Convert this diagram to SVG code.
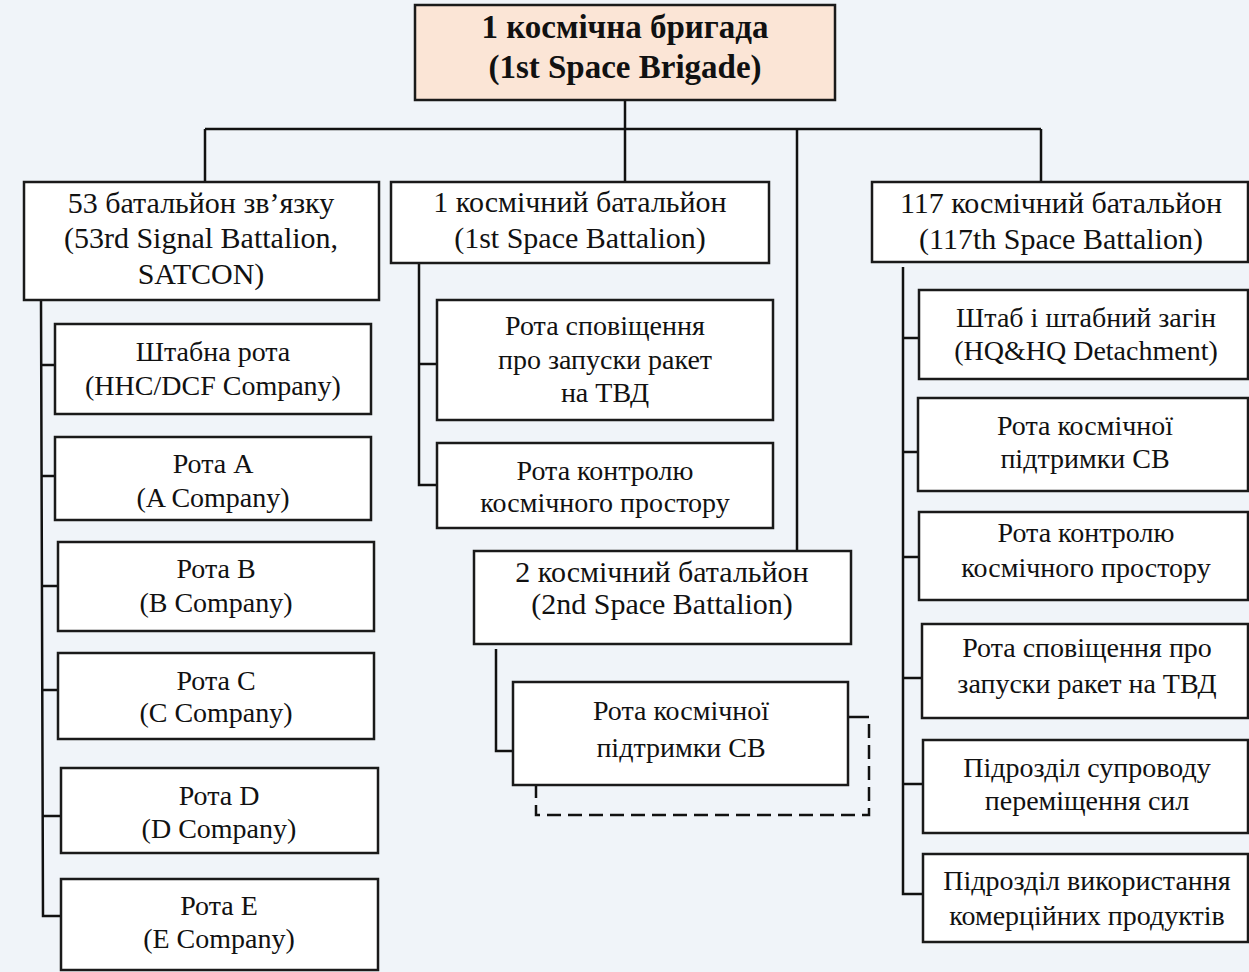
<svg xmlns="http://www.w3.org/2000/svg" width="1249" height="972" viewBox="0 0 1249 972">
<style>
.bg{fill:#f0f4f9}
.box{fill:#ffffff;stroke:#1a1a1a;stroke-width:2.5}
.top{fill:#fbe5d6;stroke:#1a1a1a;stroke-width:2.5}
.ln{fill:none;stroke:#111;stroke-width:2.5}
.dash{fill:none;stroke:#111;stroke-width:2.5;stroke-dasharray:14 7}
text{font-family:"Liberation Serif","Times New Roman",serif;fill:#111;text-anchor:middle}
.t1{font-size:33px;font-weight:bold}
.t2{font-size:30px}
.t3{font-size:28px}
</style>
<rect class="bg" x="0" y="0" width="1249" height="972"/>
<g id="connectors">
<path class="ln" d="M625,100 V182 M205,129 H1041 M205,129 V182 M797,129 V551 M1041,129 V182"/>
<path class="ln" d="M41,300 L43,916 H61 M41,365 H55 M42,476 H55 M42,586 H58 M42,690 H58 M43,816 H61"/>
<path class="ln" d="M419,263 V485 H437 M419,364 H437"/>
<path class="ln" d="M496,649 V751 H513"/>
<path class="ln" d="M903,267 V894 H923 M903,338 H919 M903,452 H918 M903,557 H919 M903,678 H922 M903,784 H923"/>
<path class="ln" d="M848,717 H869"/>
<path class="dash" d="M869,724 V815 H536 V717"/>
</g>
<g id="brigade"><rect class="top" x="415" y="5" width="420" height="95"/>
<text class="t1" x="625" y="38">1 космічна бригада</text><text class="t1" x="625" y="78">(1st Space Brigade)</text></g>
<g id="bn53"><rect class="box" x="24" y="182" width="355" height="118"/>
<text class="t2" x="201" y="213">53 батальйон зв’язку</text><text class="t2" x="201" y="248">(53rd Signal Battalion,</text><text class="t2" x="201" y="284">SATCON)</text></g>
<g id="bn1"><rect class="box" x="391" y="182" width="378" height="81"/>
<text class="t2" x="580" y="212">1 космічний батальйон</text><text class="t2" x="580" y="248">(1st Space Battalion)</text></g>
<g id="bn117"><rect class="box" x="872" y="182" width="376" height="80"/>
<text class="t2" x="1061" y="213">117 космічний батальйон</text><text class="t2" x="1061" y="249">(117th Space Battalion)</text></g>
<g id="hhc"><rect class="box" x="55" y="324" width="316" height="90"/>
<text class="t3" x="213" y="361">Штабна рота</text><text class="t3" x="213" y="395">(HHC/DCF Company)</text></g>
<g id="coA"><rect class="box" x="55" y="437" width="316" height="83"/>
<text class="t3" x="213" y="473">Рота A</text><text class="t3" x="213" y="507">(A Company)</text></g>
<g id="coB"><rect class="box" x="58" y="542" width="316" height="89"/>
<text class="t3" x="216" y="578">Рота B</text><text class="t3" x="216" y="612">(B Company)</text></g>
<g id="coC"><rect class="box" x="58" y="653" width="316" height="86"/>
<text class="t3" x="216" y="690">Рота C</text><text class="t3" x="216" y="722">(C Company)</text></g>
<g id="coD"><rect class="box" x="61" y="768" width="317" height="85"/>
<text class="t3" x="219" y="805">Рота D</text><text class="t3" x="219" y="838">(D Company)</text></g>
<g id="coE"><rect class="box" x="61" y="879" width="317" height="91"/>
<text class="t3" x="219" y="915">Рота E</text><text class="t3" x="219" y="948">(E Company)</text></g>
<g id="mid1"><rect class="box" x="437" y="300" width="336" height="120"/>
<text class="t3" x="605" y="335">Рота сповіщення</text><text class="t3" x="605" y="369">про запуски ракет</text><text class="t3" x="605" y="402">на ТВД</text></g>
<g id="mid2"><rect class="box" x="437" y="443" width="336" height="85"/>
<text class="t3" x="605" y="480">Рота контролю</text><text class="t3" x="605" y="512">космічного простору</text></g>
<g id="bn2"><rect class="box" x="474" y="551" width="377" height="93"/>
<text class="t2" x="662" y="582">2 космічний батальйон</text><text class="t2" x="662" y="614">(2nd Space Battalion)</text></g>
<g id="bn2co"><rect class="box" x="513" y="682" width="335" height="103"/>
<text class="t3" x="681" y="720">Рота космічної</text><text class="t3" x="681" y="757">підтримки СВ</text></g>
<g id="r1"><rect class="box" x="919" y="290" width="329" height="89"/>
<text class="t3" x="1086" y="327">Штаб і штабний загін</text><text class="t3" x="1086" y="360">(HQ&amp;HQ Detachment)</text></g>
<g id="r2"><rect class="box" x="918" y="398" width="330" height="93"/>
<text class="t3" x="1085" y="435">Рота космічної</text><text class="t3" x="1085" y="468">підтримки СВ</text></g>
<g id="r3"><rect class="box" x="919" y="512" width="329" height="88"/>
<text class="t3" x="1086" y="542">Рота контролю</text><text class="t3" x="1086" y="577">космічного простору</text></g>
<g id="r4"><rect class="box" x="922" y="624" width="326" height="94"/>
<text class="t3" x="1087" y="657">Рота сповіщення про</text><text class="t3" x="1087" y="693">запуски ракет на ТВД</text></g>
<g id="r5"><rect class="box" x="923" y="740" width="325" height="93"/>
<text class="t3" x="1087" y="777">Підрозділ супроводу</text><text class="t3" x="1087" y="810">переміщення сил</text></g>
<g id="r6"><rect class="box" x="923" y="854" width="325" height="88"/>
<text class="t3" x="1087" y="890">Підрозділ використання</text><text class="t3" x="1087" y="925">комерційних продуктів</text></g>
</svg>
